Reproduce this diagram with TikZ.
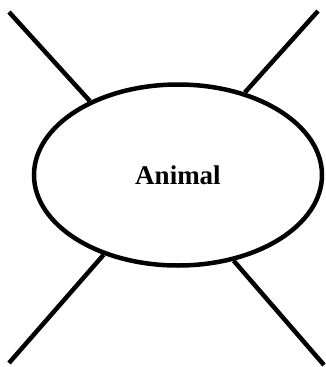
\documentclass[tikz,border=0pt]{standalone}
\usepackage{fontspec}
\setmainfont{Liberation Serif}
\usetikzlibrary{shapes.geometric}

\tikzset{
  bubble/.style={ellipse, draw, inner sep=0pt, minimum width=288pt, minimum height=181pt,
    font=\fontsize{27}{30}\selectfont\bfseries},
  leg/.style={black, line cap=butt}
}

\begin{document}
\begin{tikzpicture}[x=1pt, y=-1pt, line width=4.5pt]

	% Frame
	\useasboundingbox (0,0) rectangle (326,367);

	% Centre ellipse
	\node[bubble] (animal) at (178,175) {Animal};

	% Free ends
	\coordinate (NW) at (9,12);
	\coordinate (NE) at (318,11);
	\coordinate (SW) at (9,363);
	\coordinate (SE) at (324,365);

	% Legs
	\draw[leg] (NW) -- (animal.140);
	\draw[leg] (NE) -- (animal.51);
	\draw[leg] (SW) -- (animal.227);
	\draw[leg] (SE) -- (animal.303);

\end{tikzpicture}
\end{document}
